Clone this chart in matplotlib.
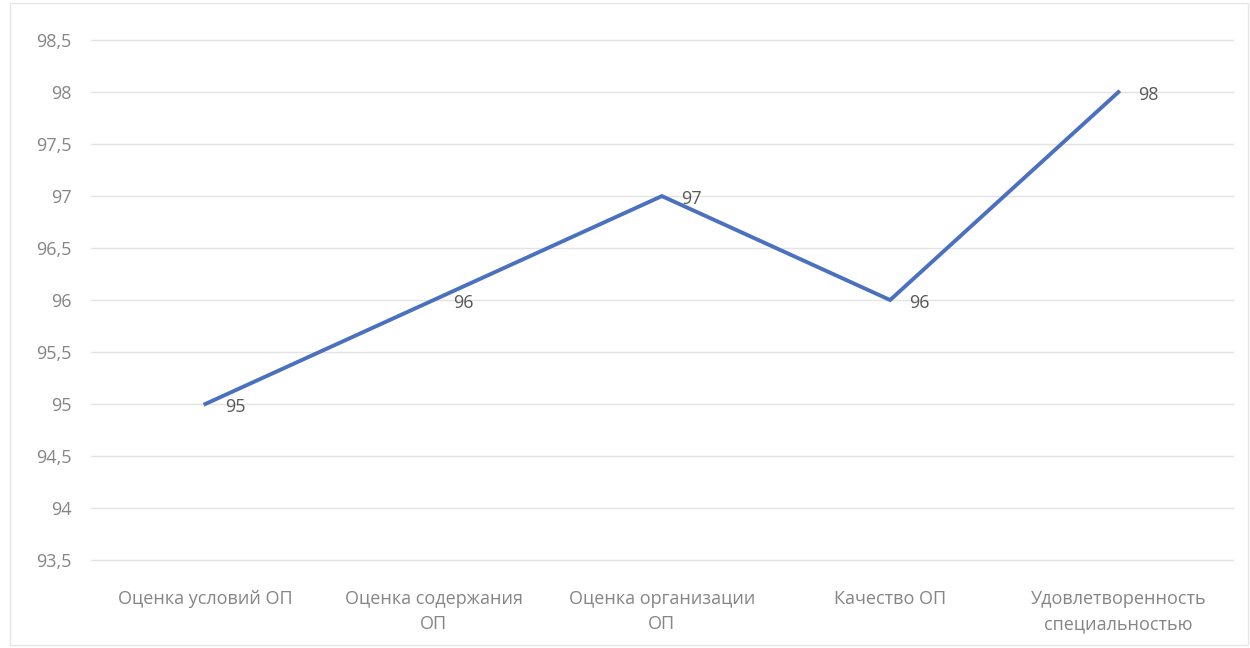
import matplotlib.pyplot as plt
from matplotlib.patches import Rectangle

categories = ["Оценка условий ОП", "Оценка содержания\nОП", "Оценка организации\nОП",
              "Качество ОП", "Удовлетворенность\nспециальностью"]
values = [95, 96, 97, 96, 98]
yticks = [93.5, 94, 94.5, 95, 95.5, 96, 96.5, 97, 97.5, 98, 98.5]

plt.rcParams['font.family'] = ['Open Sans', 'DejaVu Sans']

fig = plt.figure(figsize=(12.5, 6.48), dpi=100)
ax = fig.add_axes([0.073, 0.136, 0.913, 0.802])

x = list(range(len(categories)))
ax.plot(x, values, color="#4a70bf", lw=2.8, solid_joinstyle="miter", zorder=3)
for xi, v in zip(x, values):
    ax.annotate(f"{v}", (xi, v), xytext=(14, -2), textcoords="offset points",
                ha="left", va="center", fontsize=13, color="#595959")

ax.set_xlim(-0.5, len(categories) - 0.5)
ax.set_ylim(93.5, 98.5)
ax.set_yticks(yticks)
ax.set_yticklabels([f"{t:g}".replace(".", ",") for t in yticks])
ax.set_xticks(x)
ax.set_xticklabels(categories, linespacing=1.5)
ax.tick_params(axis="both", length=0, labelsize=13, colors="#858585")
ax.tick_params(axis="x", pad=22)
ax.tick_params(axis="y", pad=14)
ax.grid(axis="y", color="#e3e3e3", lw=1)
for gl in ax.get_ygridlines():
    gl.set_clip_on(False)
ax.set_axisbelow(True)
for s in ax.spines.values():
    s.set_visible(False)

fig.patches.append(Rectangle((0.008, 0.005), 0.99, 0.99, transform=fig.transFigure,
                             fill=False, edgecolor="#e6e6e6", lw=1))

fig.savefig("out.png", dpi=100)
